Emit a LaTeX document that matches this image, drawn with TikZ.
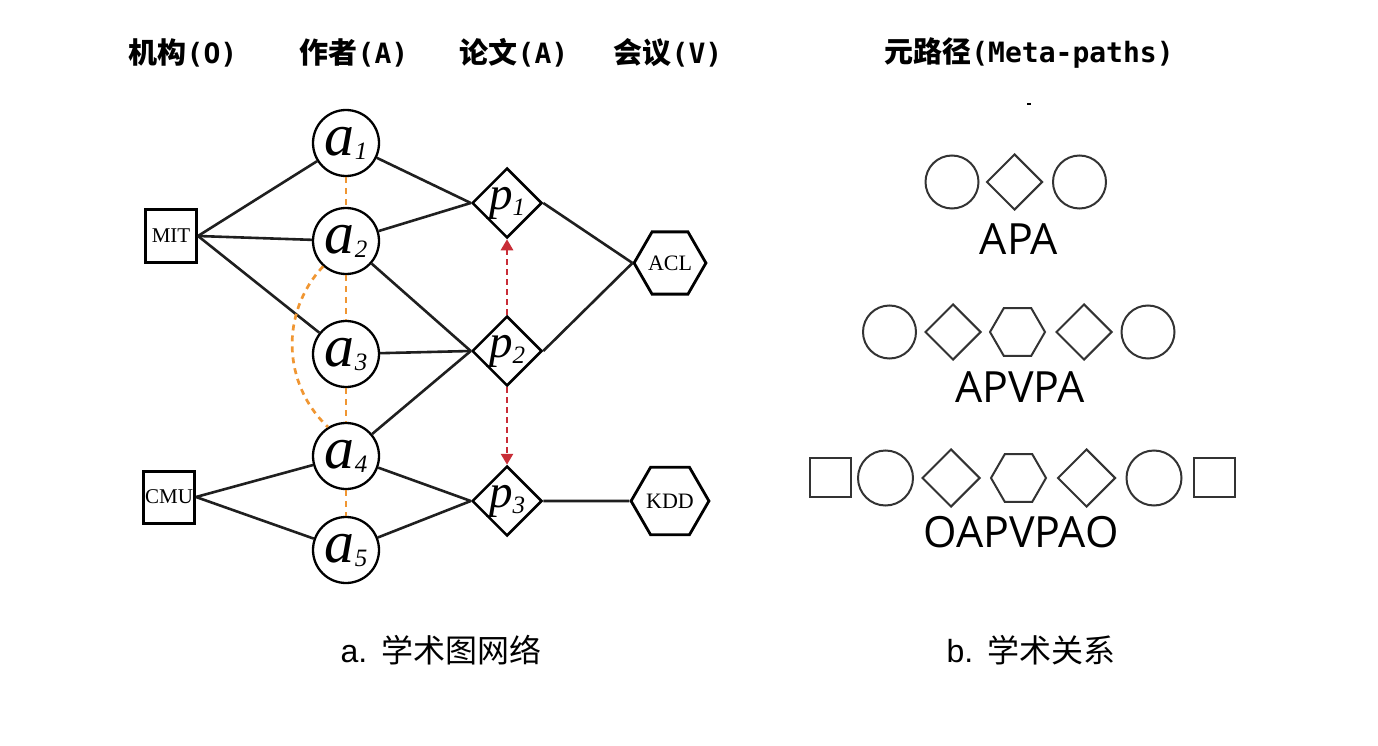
\documentclass[tikz,border=0pt]{standalone}
\usepackage{fontspec}
\setmainfont{Liberation Serif}
\newfontfamily\cjk{Noto Sans CJK SC}
\newfontfamily\dmono{DejaVu Sans Mono}
\newfontfamily\osans{Open Sans}
\newfontfamily\lsans{Liberation Sans}
\usetikzlibrary{shapes.geometric,arrows.meta}
\newcommand\myfs[1]{\fontsize{#1}{#1}\selectfont}
\newcommand\anode[1]{{\myfs{60}\itshape a}\raisebox{-4pt}{\myfs{25}\itshape #1}}
\newcommand\pnode[1]{{\myfs{47}\itshape p}\raisebox{-6pt}{\myfs{25}\itshape #1}}
\newcommand\hl[1]{{\dmono\bfseries\myfs{28}#1}}
\tikzset{
  auth/.style={circle,draw,line width=2.3pt,minimum size=66pt,inner sep=0pt},
  paper/.style={diamond,draw,line width=2.5pt,minimum size=70pt,inner sep=0pt},
  venue/.style={regular polygon,regular polygon sides=6,draw,line width=2.8pt,minimum size=67pt,inner sep=0pt,font=\myfs{22}},
  org/.style={rectangle,draw,line width=3pt,minimum width=51pt,minimum height=52pt,inner sep=0pt,font=\myfs{21}},
  edge/.style={line width=2.6pt,draw=black!88},
  odash/.style={line width=2.7pt,draw={rgb,255:red,240;green,150;blue,50},dash pattern=on 6pt off 5pt},
  rarrow/.style={line width=2.7pt,draw={rgb,255:red,200;green,45;blue,55},dash pattern=on 6pt off 4pt,-{Triangle[length=11pt,width=12pt,fill={rgb,255:red,200;green,45;blue,55}]}},
  mthin/.style={draw=black!80,line width=2pt,inner sep=0pt},
  mcirc/.style={mthin,circle,minimum size=53pt},
  mdiam/.style={mthin,diamond,minimum size=56pt},
  mhex/.style={mthin,regular polygon,regular polygon sides=6,minimum size=55pt},
  msq/.style={mthin,rectangle,minimum width=41pt,minimum height=39pt},
  mlab/.style={font=\osans\myfs{43}},
  headtxt/.style={font=\cjk\bfseries\myfs{29}},
  captxt/.style={font=\cjk\myfs{32}}
}
\begin{document}
\begin{tikzpicture}[x=1pt,y=1pt]
\useasboundingbox (0,0) rectangle (1378,-746);
% headers
\node[headtxt] (h1) at (183,-53) {机构\hl{(O)}};
\node[headtxt] (h2) at (354,-53) {作者\hl{(A)}};
\node[headtxt] (h3) at (514,-53) {论文\hl{(A)}};
\node[headtxt] (h4) at (668,-53) {会议\hl{(V)}};
\node[headtxt] (h5) at (1029,-53) {元路径\hl{(Meta-paths)}};
% left graph nodes
\node[org] (MIT) at (171,-236) {MIT};
\node[org] (CMU) at (169,-497) {CMU};
\node[auth] (a1) at (346,-143) {\anode{1}};
\node[auth] (a2) at (346,-241) {\anode{2}};
\node[auth] (a3) at (346,-354) {\anode{3}};
\node[auth] (a4) at (346,-456) {\anode{4}};
\node[auth] (a5) at (346,-550) {\anode{5}};
\node[paper] (p1) at (507,-203) {\pnode{1}};
\node[paper] (p2) at (507,-351) {\pnode{2}};
\node[paper] (p3) at (507,-501) {\pnode{3}};
\node[venue] (ACL) at (670,-263) {ACL};
\node[venue] (KDD) at (670,-501) {KDD};
% edges
\draw[edge] (MIT.east) -- (a1);
\draw[edge] (MIT.east) -- (a2);
\draw[edge] (MIT.east) -- (a3);
\draw[edge] (CMU.east) -- (a4);
\draw[edge] (CMU.east) -- (a5);
\draw[edge] (a1) -- (p1.west);
\draw[edge] (a2) -- (p1.west);
\draw[edge] (a2) -- (p2.west);
\draw[edge] (a3) -- (p2.west);
\draw[edge] (a4) -- (p2.west);
\draw[edge] (a4) -- (p3.west);
\draw[edge] (a5) -- (p3.west);
\draw[edge] (p1.east) -- (ACL.west);
\draw[edge] (p2.east) -- (ACL.west);
\draw[edge] (p3.east) -- (KDD.west);
% orange dashed
\draw[odash] (a1) -- (a2);
\draw[odash] (a2) -- (a3);
\draw[odash] (a3) -- (a4);
\draw[odash] (a4) -- (a5);
\draw[odash] (a2.228) to[bend right=45] (a4.122);
% red dashed arrows
\draw[rarrow] (p2.north) -- (p1.south);
\draw[rarrow] (p2.south) -- (p3.north);
% right panel
\draw[line width=1.5pt] (1027,-104) -- (1031,-104);
\node[mcirc] (r1a) at (952,-182) {};
\node[mdiam] (r1b) at (1014.5,-182) {};
\node[mcirc] (r1c) at (1079.5,-182) {};
\node[mlab] (l1) at (1019,-239) {APA};
\node[mcirc] (r2a) at (889.5,-332) {};
\node[mdiam] (r2b) at (953,-332) {};
\node[mhex] (r2c) at (1017.5,-332) {};
\node[mdiam] (r2d) at (1084,-332) {};
\node[mcirc] (r2e) at (1148,-332) {};
\node[mlab] (l2) at (1020,-387) {APVPA};
\node[msq] (r3a) at (830.5,-477.5) {};
\node[mcirc,minimum size=55pt] (r3b) at (885.5,-478) {};
\node[mdiam,minimum size=58pt] (r3c) at (951,-478) {};
\node[mhex] (r3d) at (1018.5,-478) {};
\node[mdiam,minimum size=58pt] (r3e) at (1086.5,-478) {};
\node[mcirc,minimum size=55pt] (r3f) at (1154,-478) {};
\node[msq] (r3g) at (1214,-477.5) {};
\node[mlab] (l3) at (1021,-532) {OAPVPAO};
% captions
\node[captxt] (c1) at (441,-650) {{\lsans a.}\hspace{14pt}学术图网络};
\node[captxt] (c2) at (1031,-650) {{\lsans b.}\hspace{14pt}学术关系};
\end{tikzpicture}
\end{document}
